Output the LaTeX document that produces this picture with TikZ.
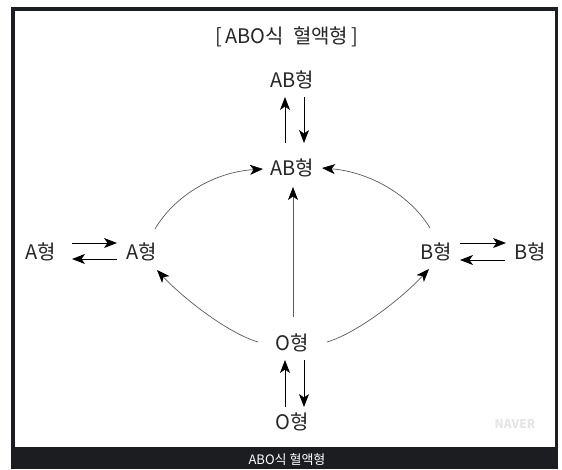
\documentclass[tikz,border=0pt]{standalone}
\usepackage{fontspec}
\setmainfont{Noto Sans CJK KR}
\usetikzlibrary{arrows.meta,calc}
\definecolor{framedark}{HTML}{1B1D21}
\definecolor{curvegray}{HTML}{5A5A5A}
\begin{document}
\begin{tikzpicture}[x=1pt,y=-1pt,
  lbl/.style={font=\fontsize{20}{20}\selectfont, text=black!85, inner sep=0pt},
  ttl/.style={font=\fontsize{20}{20}\selectfont, text=black!85, inner sep=0pt},
  captxt/.style={font=\fontsize{13}{13}\selectfont, text=white, inner sep=0pt},
  wmark/.style={font=\bfseries\fontsize{12}{12}\selectfont, text=black!10, inner sep=0pt},
  arr/.style={draw=black, line width=0.9pt, -{Stealth[length=13pt,width=10pt,inset=3.5pt]}},
  crv/.style={draw=curvegray, line width=0.7pt, -{Stealth[length=13pt,width=10pt,inset=3.5pt,color=black]}}]
\useasboundingbox (0,0) rectangle (562,469);
% frame
\fill[white] (0,0) rectangle (562,469);
\fill[framedark] (11,7) rectangle (558,469);
\fill[white] (15,11) rectangle (555,447);
% texts
\node[ttl] (title) at (287,37) {[\,ABO식\ \ 혈액형\,]};
\node[lbl] (abt) at (292,80) {AB형};
\node[lbl] (abm) at (292,168) {AB형};
\node[lbl] (ao) at (41,252) {A형};
\node[lbl] (ai) at (142,252) {A형};
\node[lbl] (bi) at (436,252) {B형};
\node[lbl] (bo) at (530,252) {B형};
\node[lbl] (om) at (292,343) {O형};
\node[lbl] (ob) at (292,422) {O형};
\node[captxt] (caption) at (287,460) {ABO식 혈액형};
\node[wmark] (naver) at (515,424) {NAVER};
% vertical pairs
\draw[arr] ($(abm)+(-7,-25)$) -- ($(abt)+(-7,17)$);
\draw[arr] ($(abt)+(12,17)$) -- ($(abm)+(12,-25)$);
\draw[arr] ($(ob)+(-7,-15)$) -- ($(om)+(-7,17)$);
\draw[arr] ($(om)+(12,17)$) -- ($(ob)+(12,-15)$);
% horizontal pairs
\draw[arr] ($(ao)+(31,-9)$) -- ($(ai)+(-25,-9)$);
\draw[arr] ($(ai)+(-25,7)$) -- ($(ao)+(31,7)$);
\draw[arr] ($(bi)+(24,-9)$) -- ($(bo)+(-24,-9)$);
\draw[arr] ($(bo)+(-25,8)$) -- ($(bi)+(24,8)$);
% centre vertical
\draw[crv] ($(om)+(1,-26)$) -- ($(abm)+(1,19)$);
% curves
\draw[crv] ($(ai)+(13,-23)$) .. controls (175,195) and (215,172) .. ($(abm)+(-29,1)$);
\draw[crv] ($(bi)+(-6,-24)$) .. controls (410,195) and (370,172) .. ($(abm)+(30,0)$);
\draw[crv] ($(om)+(-34,-1)$) .. controls (225,332) and (180,295) .. ($(ai)+(15,18)$);
\draw[crv] ($(om)+(35,-1)$) .. controls (360,332) and (405,295) .. ($(bi)+(-7,17)$);
\end{tikzpicture}
\end{document}
